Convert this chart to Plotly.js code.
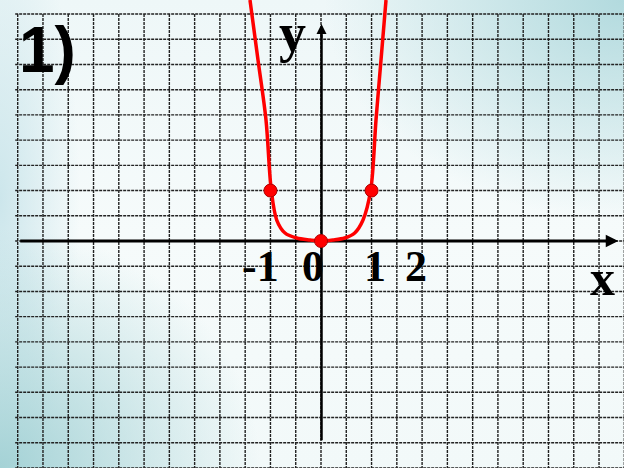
<!DOCTYPE html>
<html>
<head>
<meta charset="utf-8">
<script src="https://cdn.plot.ly/plotly-3.0.1.min.js"></script>
<style>
html,body{margin:0;padding:0;}
body{width:624px;height:468px;overflow:hidden;
background:
 radial-gradient(ellipse 260px 240px at 0px 468px, rgba(160,208,212,0.95) 0%, rgba(160,208,212,0) 100%),
 radial-gradient(ellipse 300px 220px at 624px 0px, rgba(178,218,222,1) 0%, rgba(178,218,222,0) 100%),
 radial-gradient(ellipse 80px 300px at 0px 200px, rgba(200,228,234,0.9) 0%, rgba(200,228,234,0) 100%),
 linear-gradient(180deg, #eef7f8 0%, #f6fbfb 50%, #f2f9f9 100%);}
#chart{width:624px;height:468px;}
</style>
</head>
<body>
<div id="chart"></div>
<script>
// curve (hand-drawn y = x^n shape)
const curveX = [-1.405, -1.246, -1.088, -0.985, -0.876, -0.712, -0.481, -0.218, 0, 0.237, 0.469, 0.667, 0.831, 0.985, 1.088, 1.187, 1.286];
const curveY = [4.778, 3.588, 2.399, 1.02, 0.416, 0.159, 0.059, 0.02, 0, 0.02, 0.059, 0.159, 0.416, 1.02, 2.399, 3.588, 4.778];
// marked points
const pointX = [-1, 0, 1];
const pointY = [1, 0, 1];
// tick labels
const tickLabels = ['-1', '0', '1', '2'];
const tickLabelX = [-1.2, -0.16, 1.07, 1.88];

const xr = [-321/50.55, 303/50.55];
const yr = [-227/50.44, 241/50.44];

const shapes = [];
const gridStyle = {color:'#222', width:1.4, dash:'3px,1px'};
for (let i = -12; i <= 12; i++) {
  const gx = i * 0.5;
  shapes.push({type:'line', xref:'x', yref:'y', x0:gx, x1:gx, y0:-4.6, y1:4.5, line:gridStyle, layer:'below'});
}
for (let j = -9; j <= 9; j++) {
  const gy = j * 0.5;
  shapes.push({type:'line', xref:'x', yref:'y', x0:-6.05, x1:xr[1], y0:gy, y1:gy, line:gridStyle, layer:'below'});
}
// axes
shapes.push({type:'line', xref:'x', yref:'y', x0:-5.95, x1:5.7, y0:0, y1:0, line:{color:'#000', width:3}, layer:'below'});
shapes.push({type:'line', xref:'x', yref:'y', x0:0.01, x1:0.01, y0:-3.95, y1:4.1, line:{color:'#000', width:2.5}, layer:'below'});

const annotations = [
  {x:5.88, y:0, ax:5.6, ay:0, xref:'x', yref:'y', axref:'x', ayref:'y', text:'', showarrow:true, arrowhead:2, arrowsize:1, arrowwidth:2.5, arrowcolor:'#000'},
  {x:0.01, y:4.3, ax:0.01, ay:4.0, xref:'x', yref:'y', axref:'x', ayref:'y', text:'', showarrow:true, arrowhead:2, arrowsize:1, arrowwidth:2, arrowcolor:'#000'},
  {x:-0.56, y:4.12, xref:'x', yref:'y', text:'y', showarrow:false, font:{family:'Liberation Serif', size:54, color:'#000', weight:'bold'}},
  {x:5.57, y:-0.74, xref:'x', yref:'y', text:'x', showarrow:false, font:{family:'Liberation Serif', size:50, color:'#000', weight:'bold'}},
  {x:47/624, y:0.974, xref:'paper', yref:'paper', xanchor:'center', yanchor:'top', text:'1)', showarrow:false, font:{family:'Liberation Sans', size:64, color:'#000', weight:'bold'}}
];
for (let k = 0; k < tickLabels.length; k++) {
  annotations.push({x:tickLabelX[k], y:-0.5, xref:'x', yref:'y', text:tickLabels[k], showarrow:false,
    font:{family:'Liberation Serif', size:44, color:'#000', weight:'bold'}});
}

const data = [
  {x:curveX, y:curveY, mode:'lines', line:{color:'#ff0000', width:3.5, shape:'spline', smoothing:0.9}, hoverinfo:'none'},
  {x:pointX, y:pointY, mode:'markers', marker:{color:'#ff0000', size:13, line:{color:'#b00000', width:1}}, hoverinfo:'none', cliponaxis:false}
];

const layout = {
  width:624, height:468,
  margin:{l:0, r:0, t:0, b:0},
  paper_bgcolor:'rgba(0,0,0,0)', plot_bgcolor:'rgba(0,0,0,0)',
  showlegend:false,
  xaxis:{range:xr, visible:false, fixedrange:true},
  yaxis:{range:yr, visible:false, fixedrange:true},
  shapes:shapes, annotations:annotations
};
Plotly.newPlot('chart', data, layout, {staticPlot:true});
</script>
</body>
</html>
